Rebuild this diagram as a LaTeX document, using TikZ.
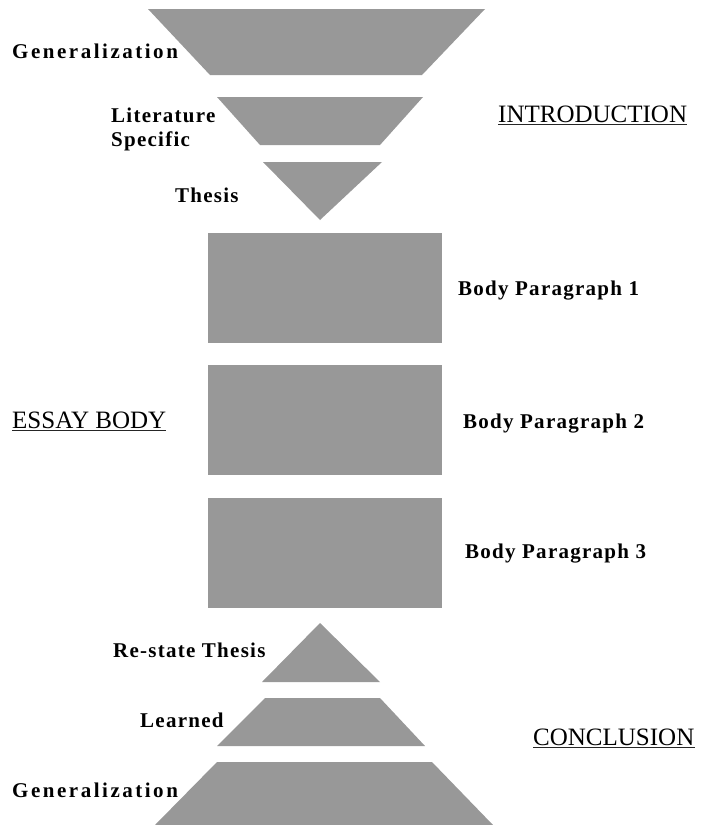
\documentclass[tikz,border=0pt]{standalone}
\usepackage{fontspec}
\setmainfont{Liberation Serif}
\newfontfamily\labfont[LetterSpace=6]{Liberation Serif Bold}
\newfontfamily\genfont[LetterSpace=12]{Liberation Serif Bold}
\definecolor{shade}{RGB}{152,152,152}
\begin{document}
\begin{tikzpicture}[x=1pt,y=-1pt,
  block/.style={fill=shade},
  lab/.style={anchor=base west, inner sep=0pt, font=\labfont\fontsize{21}{26}\selectfont},
  genlab/.style={anchor=base west, inner sep=0pt, font=\genfont\fontsize{21}{26}\selectfont},
  head/.style={anchor=base west, inner sep=0pt, font=\fontsize{25}{30}\selectfont},
  underl/.style={line width=0.9pt, draw=black!85}]
\useasboundingbox (0,0) rectangle (701,825);

% introduction funnel
\fill[block] (148,9) -- (485,9) -- (422,75) -- (210,75) -- cycle;
\fill[block] (217,97) -- (423,97) -- (380,145) -- (260,145) -- cycle;
\fill[block] (263,162) -- (382,162) -- (320,220) -- cycle;

% body paragraphs
\fill[block] (208,233) rectangle (442,343);
\fill[block] (208,365) rectangle (442,475);
\fill[block] (208,498) rectangle (442,608);

% conclusion pyramid
\fill[block] (320,623) -- (380,682) -- (262,682) -- cycle;
\fill[block] (265,698) -- (380,698) -- (425,746) -- (217,746) -- cycle;
\fill[block] (217,762) -- (432,762) -- (493,825) -- (155,825) -- cycle;

% labels beside the shapes
\node[genlab] (gentop) at (12,58) {Generalization};
\node[lab] (lit) at (111,122) {Literature};
\node[lab] (spec) at (111,146) {Specific};
\node[lab] (thesis) at (175,202) {Thesis};
\node[lab] (bp1) at (458,295) {Body Paragraph 1};
\node[lab] (bp2) at (463,428) {Body Paragraph 2};
\node[lab] (bp3) at (465,558) {Body Paragraph 3};
\node[lab] (restate) at (113,657) {Re-state Thesis};
\node[lab] (learned) at (140,727) {Learned};
\node[genlab] (genbot) at (12,797) {Generalization};

% section headings
\node[head] (intro) at (498,122) {INTRODUCTION};
\node[head] (essay) at (12,428) {ESSAY BODY};
\node[head] (concl) at (533,745) {CONCLUSION};
\foreach \h in {intro,essay,concl}
  \draw[underl] ([yshift=-2.5pt]\h.base west) -- ([yshift=-2.5pt]\h.base east);
\end{tikzpicture}
\end{document}
